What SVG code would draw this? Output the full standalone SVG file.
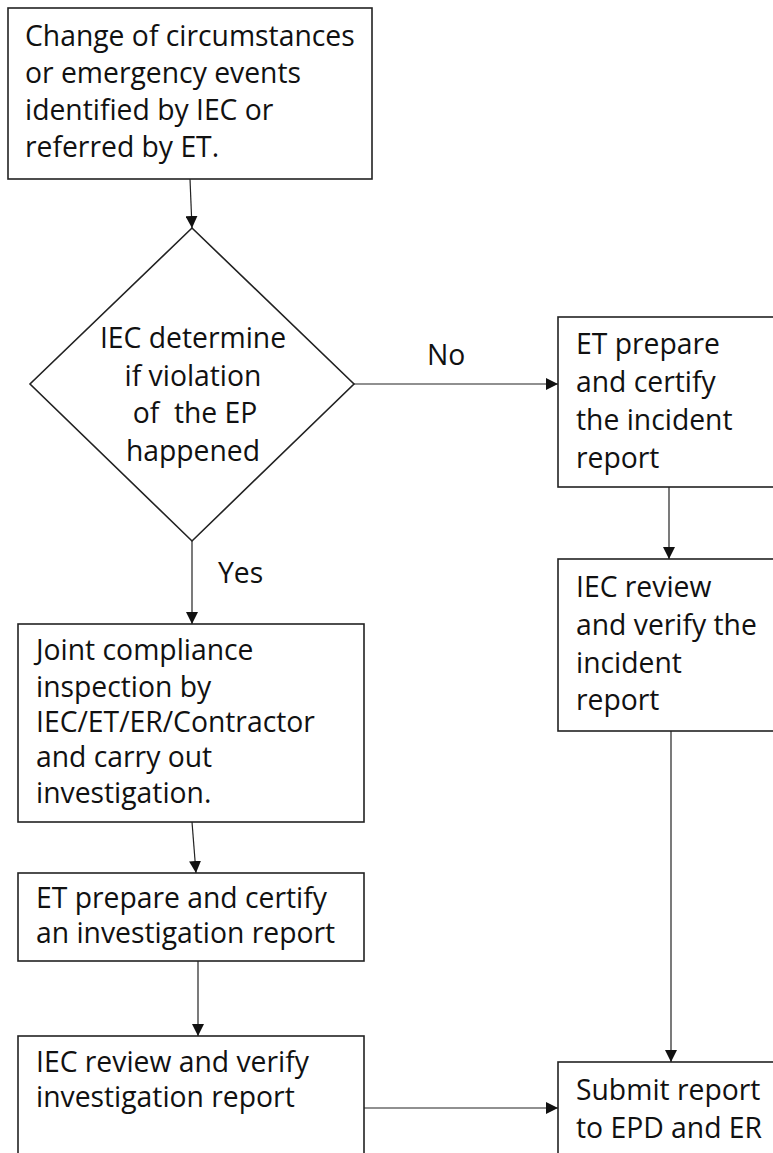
<svg xmlns="http://www.w3.org/2000/svg" width="773" height="1153" viewBox="0 0 773 1153">
<defs>
<marker id="arr" viewBox="0 0 12 12" refX="12" refY="6" markerWidth="12" markerHeight="12" markerUnits="userSpaceOnUse" orient="auto">
<path d="M0,0 L12,6 L0,12 z" fill="#111"/>
</marker>
<style>
.box{fill:#fff;stroke:#222;stroke-width:1.6}
.t{font-family:"Open Sans","Liberation Sans",sans-serif;font-size:28.3px;fill:#111}
.c{text-anchor:middle}
.ln{stroke:#222;stroke-width:1.2;fill:none;marker-end:url(#arr)}
</style>
</defs>
<rect width="773" height="1153" fill="#fff"/>
<g id="n1">
<rect class="box" x="8" y="8" width="364" height="171"/>
<text class="t" x="25" y="46">Change of circumstances</text>
<text class="t" x="25" y="83">or emergency events</text>
<text class="t" x="25" y="120">identified by IEC or</text>
<text class="t" x="25" y="157">referred by ET.</text>
</g>
<g id="n2">
<polygon class="box" points="192,228 354,384 192,541 30,384"/>
<text class="t c" x="193" y="348">IEC determine</text>
<text class="t c" x="193" y="386">if violation</text>
<text class="t c" x="195" y="423" xml:space="preserve">of  the EP</text>
<text class="t c" x="193" y="461">happened</text>
</g>
<g id="n3">
<rect class="box" x="18" y="624" width="346" height="198"/>
<text class="t" x="36" y="660">Joint compliance</text>
<text class="t" x="36" y="697">inspection by</text>
<text class="t" x="36" y="732">IEC/ET/ER/Contractor</text>
<text class="t" x="36" y="767">and carry out</text>
<text class="t" x="36" y="803">investigation.</text>
</g>
<g id="n4">
<rect class="box" x="18" y="873" width="346" height="88"/>
<text class="t" x="36" y="908">ET prepare and certify</text>
<text class="t" x="36" y="943">an investigation report</text>
</g>
<g id="n5">
<rect class="box" x="18" y="1036" width="346" height="130"/>
<text class="t" x="36" y="1072">IEC review and verify</text>
<text class="t" x="36" y="1107">investigation report</text>
</g>
<g id="n6">
<rect class="box" x="558" y="317" width="230" height="170"/>
<text class="t" x="576" y="354">ET prepare</text>
<text class="t" x="576" y="392">and certify</text>
<text class="t" x="576" y="430">the incident</text>
<text class="t" x="576" y="468">report</text>
</g>
<g id="n7">
<rect class="box" x="558" y="559" width="230" height="172"/>
<text class="t" x="576" y="597">IEC review</text>
<text class="t" x="576" y="635">and verify the</text>
<text class="t" x="576" y="673">incident</text>
<text class="t" x="576" y="710">report</text>
</g>
<g id="n8">
<rect class="box" x="558" y="1062" width="230" height="110"/>
<text class="t" x="576" y="1100">Submit report</text>
<text class="t" x="576" y="1138">to EPD and ER</text>
</g>
<g id="connectors">
<line class="ln" x1="190" y1="179" x2="192" y2="228"/>
<line class="ln" x1="354" y1="384" x2="558" y2="384"/>
<text class="t" x="427" y="365">No</text>
<line class="ln" x1="192" y1="541" x2="192" y2="624"/>
<text class="t" x="218" y="583">Yes</text>
<line class="ln" x1="192" y1="822" x2="196" y2="873"/>
<line class="ln" x1="198" y1="961" x2="198" y2="1036"/>
<line class="ln" x1="669" y1="487" x2="669" y2="559"/>
<line class="ln" x1="671" y1="731" x2="671" y2="1062"/>
<line class="ln" x1="364" y1="1108" x2="558" y2="1108"/>
</g>
</svg>
